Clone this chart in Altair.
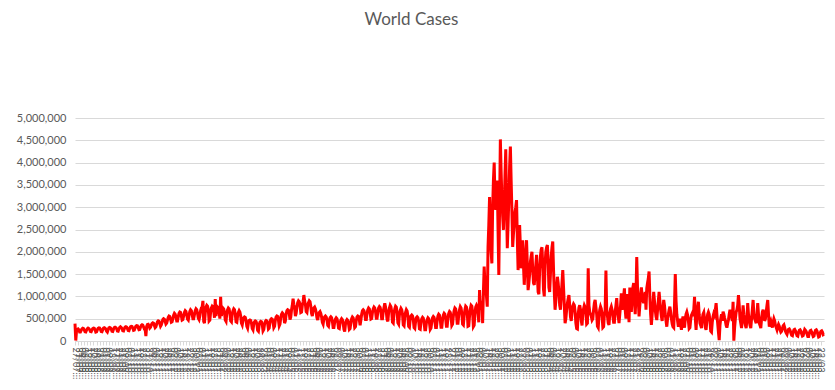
import altair as alt
import pandas as pd

# Daily new cases (thousands), read week by week (Mon..Sun) from the picture
start_date = "2020-07-27"

cases_2020 = [
    390, 10, 230, 260, 270, 250, 200,
    200, 240, 270, 285, 280, 250, 210,
    205, 245, 275, 290, 280, 255, 215,
    210, 250, 280, 290, 285, 250, 200,
    205, 250, 285, 295, 290, 260, 215,
    210, 255, 290, 300, 290, 265, 220,
    200, 250, 295, 305, 295, 270, 220,
    215, 265, 300, 310, 300, 275, 225,
    220, 270, 305, 320, 305, 280, 230,
    225, 275, 310, 320, 310, 280, 235,
    230, 280, 320, 330, 325, 290, 240,
    245, 295, 330, 345, 340, 300, 255,
    260, 310, 350, 365, 355, 315, 270,
    270, 110, 330, 370, 375, 340, 290,
    310, 360, 395, 410, 400, 350, 300,
    320, 380, 430, 450, 440, 390, 330,
    360, 420, 480, 500, 490, 440, 380,
    400, 470, 530, 560, 550, 490, 420,
    430, 500, 580, 620, 600, 540, 450,
    450, 540, 620, 650, 640, 560, 470,
    480, 560, 640, 680, 660, 580, 490,
    470, 570, 660, 700, 680, 600, 500,
    500, 590, 680, 720, 700, 620, 510,
]

cases_2021_h1 = [
    480, 560, 680, 740, 760, 900, 440,
    400, 620, 760, 800, 780, 700, 450,
    470, 640, 740, 780, 760, 680, 520,
    940, 560, 700, 760, 740, 660, 500,
    990, 560, 680, 740, 720, 640, 470,
    440, 620, 700, 740, 720, 620, 450,
    430, 600, 680, 720, 700, 600, 430,
    420, 560, 640, 680, 650, 560, 400,
    360, 460, 520, 540, 530, 460, 330,
    290, 400, 460, 470, 460, 400, 280,
    250, 380, 430, 450, 440, 380, 240,
    220, 360, 420, 440, 430, 370, 230,
    260, 380, 440, 460, 450, 390, 270,
    290, 420, 480, 500, 490, 420, 300,
    330, 470, 540, 560, 550, 470, 340,
    380, 520, 600, 630, 610, 540, 400,
    450, 600, 680, 700, 690, 620, 480,
    540, 700, 800, 950, 820, 730, 560,
    620, 760, 860, 900, 880, 800, 640,
    650, 800, 880, 1030, 900, 820, 660,
    640, 780, 860, 900, 880, 780, 620,
    560, 680, 740, 760, 720, 640, 520,
    470, 580, 640, 660, 620, 540, 420,
    380, 500, 540, 560, 540, 470, 350,
    330, 460, 520, 540, 520, 440, 300,
    300, 420, 490, 520, 500, 420, 290,
    280, 400, 470, 500, 480, 400, 260,
]

cases_2021_h2 = [
    210, 380, 450, 480, 460, 380, 260,
    280, 420, 500, 540, 520, 430, 300,
    320, 460, 540, 560, 550, 470, 350,
    470, 600, 680, 700, 680, 600, 480,
    480, 620, 700, 740, 720, 630, 490,
    500, 640, 720, 760, 740, 660, 510,
    510, 650, 740, 770, 750, 660, 500,
    500, 660, 750, 845, 760, 650, 480,
    440, 640, 740, 800, 770, 660, 420,
    400, 620, 720, 780, 760, 640, 410,
    380, 580, 680, 730, 700, 600, 360,
    340, 540, 640, 700, 670, 560, 330,
    310, 480, 560, 580, 560, 480, 300,
    280, 440, 520, 540, 520, 440, 270,
    260, 420, 500, 530, 510, 420, 250,
    250, 400, 480, 520, 500, 410, 260,
    290, 430, 520, 550, 530, 440, 300,
    300, 460, 560, 600, 580, 480, 310,
    310, 480, 580, 620, 600, 500, 330,
    330, 520, 620, 660, 640, 540, 350,
    380, 560, 680, 740, 720, 600, 400,
    400, 580, 700, 770, 740, 620, 380,
    360, 560, 700, 780, 760, 650, 330,
    340, 560, 720, 800, 780, 640, 320,
    350, 600, 760, 800, 760, 640, 420,
]

cases_omicron = [
    1140, 700, 820, 900, 400, 1100, 1670,
    1300, 1200, 1000, 770, 2100, 2600, 3230,
    2400, 2000, 1740, 3000, 3600, 4000, 3200,
    2940, 3300, 3600, 2500, 1480, 3000, 4520,
    3800, 3200, 2800, 2490, 3000, 3700, 4300,
    3100, 2080, 2600, 3200, 3900, 4360, 3600,
    2900, 2110, 2400, 2600, 2900, 3000, 3160,
    2300, 1590, 2000, 2600, 2100, 1630, 1900,
    2260, 1700, 1260, 1600, 2000, 2260, 1700,
    1140, 1300, 1500, 1780, 1900, 2000, 1600,
    1300, 1260, 1500, 1700, 1930, 1500, 1100,
    1050, 1600, 1900, 2050, 2100, 1700, 1150,
    1000, 1700, 2000, 2100, 2150, 1800, 1200,
    1100, 1500, 1900, 2100, 2230, 1600, 1100,
    700, 900, 1200, 1440, 1300, 1100, 800,
    700, 1000, 1300, 1590, 1200, 800, 400,
    500, 700, 850, 950, 1030, 800, 540,
    450, 650, 780, 830, 800, 650, 400,
    280, 270, 600, 750, 800, 700, 450,
    350, 600, 720, 800, 760, 620, 380,
]

cases_2022 = [
    400, 1630, 800, 650, 600, 550, 470,
    500, 700, 850, 920, 760, 600, 330,
    300, 560, 700, 770, 720, 560, 300,
    320, 600, 700, 1580, 700, 560, 400,
    360, 600, 720, 770, 700, 560, 420,
    420, 650, 800, 960, 700, 550, 400,
    600, 800, 1070, 700, 900, 1000, 1180,
    700, 500, 900, 1050, 800, 420, 1200,
    900, 650, 1000, 1200, 1300, 900, 600,
    1000, 1880, 1200, 900, 550, 800, 1000,
    1200, 1000, 900, 850, 1000, 1100, 700,
    1180, 1300, 1400, 1560, 1000, 600, 360,
    600, 800, 1100, 900, 700, 550, 470,
    700, 900, 1100, 900, 700, 550, 450,
    700, 920, 800, 600, 450, 320, 500,
    600, 700, 770, 650, 500, 380, 320,
    300, 800, 1500, 900, 600, 450, 320,
    400, 500, 350, 250, 450, 550, 400,
    300, 500, 600, 650, 580, 450, 280,
    300, 480, 580, 620, 560, 700, 990,
    500, 250, 600, 750, 880, 600, 400,
    350, 290, 500, 600, 640, 500, 300,
    250, 450, 600, 650, 600, 450, 220,
    200, 420, 550, 620, 580, 700, 850,
]

cases_2023 = [
    600, 400, 200, 20, 350, 500, 600,
    450, 660, 600, 520, 450, 350, 300,
    400, 470, 600, 700, 650, 550, 450,
    880, 5, 300, 500, 650, 700, 800,
    1030, 800, 500, 400, 290, 500, 800,
    600, 450, 350, 290, 500, 850, 600,
    450, 350, 290, 500, 700, 920, 600,
    500, 450, 400, 600, 850, 600, 400,
    350, 290, 500, 650, 700, 600, 450,
    500, 650, 800, 920, 600, 320, 400,
    450, 380, 300, 420, 500, 450, 350,
    300, 250, 320, 370, 330, 250, 200,
    220, 280, 340, 360, 300, 220, 180,
    150, 220, 260, 270, 240, 180, 130,
    120, 200, 250, 260, 230, 170, 120,
    110, 190, 240, 250, 220, 160, 110,
    120, 200, 260, 240, 210, 150, 100,
    100, 180, 230, 240, 200, 150, 100,
    110, 190, 240, 250, 220, 150, 90,
    100, 180, 220, 230, 200, 140, 150,
]

y_ticks = [0, 500000, 1000000, 1500000, 2000000, 2500000,
           3000000, 3500000, 4000000, 4500000, 5000000]

values_k = cases_2020 + cases_2021_h1 + cases_2021_h2 + cases_omicron + cases_2022 + cases_2023
dates = pd.date_range(start_date, periods=len(values_k), freq="D")
df = pd.DataFrame({"date": dates.strftime("%Y-%m-%d"), "cases": [v * 1000 for v in values_k]})

# category labels: every 4th day, last one inside the plot edge
tick_dates = dates[:-4:4]
x_ticks = [int(pd.Timestamp(d, tz="UTC").timestamp() * 1000) for d in tick_dates]
x_domain = [x_ticks[0], int(pd.Timestamp(dates[-1], tz="UTC").timestamp() * 1000)]

chart = alt.Chart(df).mark_line(
    color="#ff0000", strokeWidth=3, strokeJoin="miter"
).encode(
    x=alt.X(
        "date:T",
        title=None,
        scale=alt.Scale(type="utc", domain=x_domain, nice=False),
        axis=alt.Axis(
            values=x_ticks,
            labelExpr="utcFormat(datum.value, '%d/%m/%Y')",
            labelAngle=90,
            labelFontSize=9,
            labelFont="Lato",
            labelColor="#595959",
            labelLimit=34,
            labelOverlap=False,
            labelPadding=2,
            tickSize=4,
            tickColor="#d9d9d9",
            domainColor="#d9d9d9",
            grid=False,
        ),
    ),
    y=alt.Y(
        "cases:Q",
        title=None,
        scale=alt.Scale(domain=[0, 5000000], nice=False),
        axis=alt.Axis(
            values=y_ticks,
            format=",d",
            labelFont="Lato",
            labelFontSize=11,
            labelColor="#595959",
            labelPadding=9,
            ticks=False,
            domain=False,
            gridColor="#d9d9d9",
        ),
    ),
).properties(
    width=749,
    height=223,
    title=alt.TitleParams(
        "World Cases", font="Lato", fontSize=17, fontWeight="normal",
        color="#595959", anchor="middle", dx=-38, offset=83,
    ),
    autosize=alt.AutoSizeParams(type="none"),
    padding={"left": 67, "top": 110, "right": 3, "bottom": 41},
).configure_view(stroke=None)

chart.save("out.html", embed_options={"renderer": "svg", "actions": False})
